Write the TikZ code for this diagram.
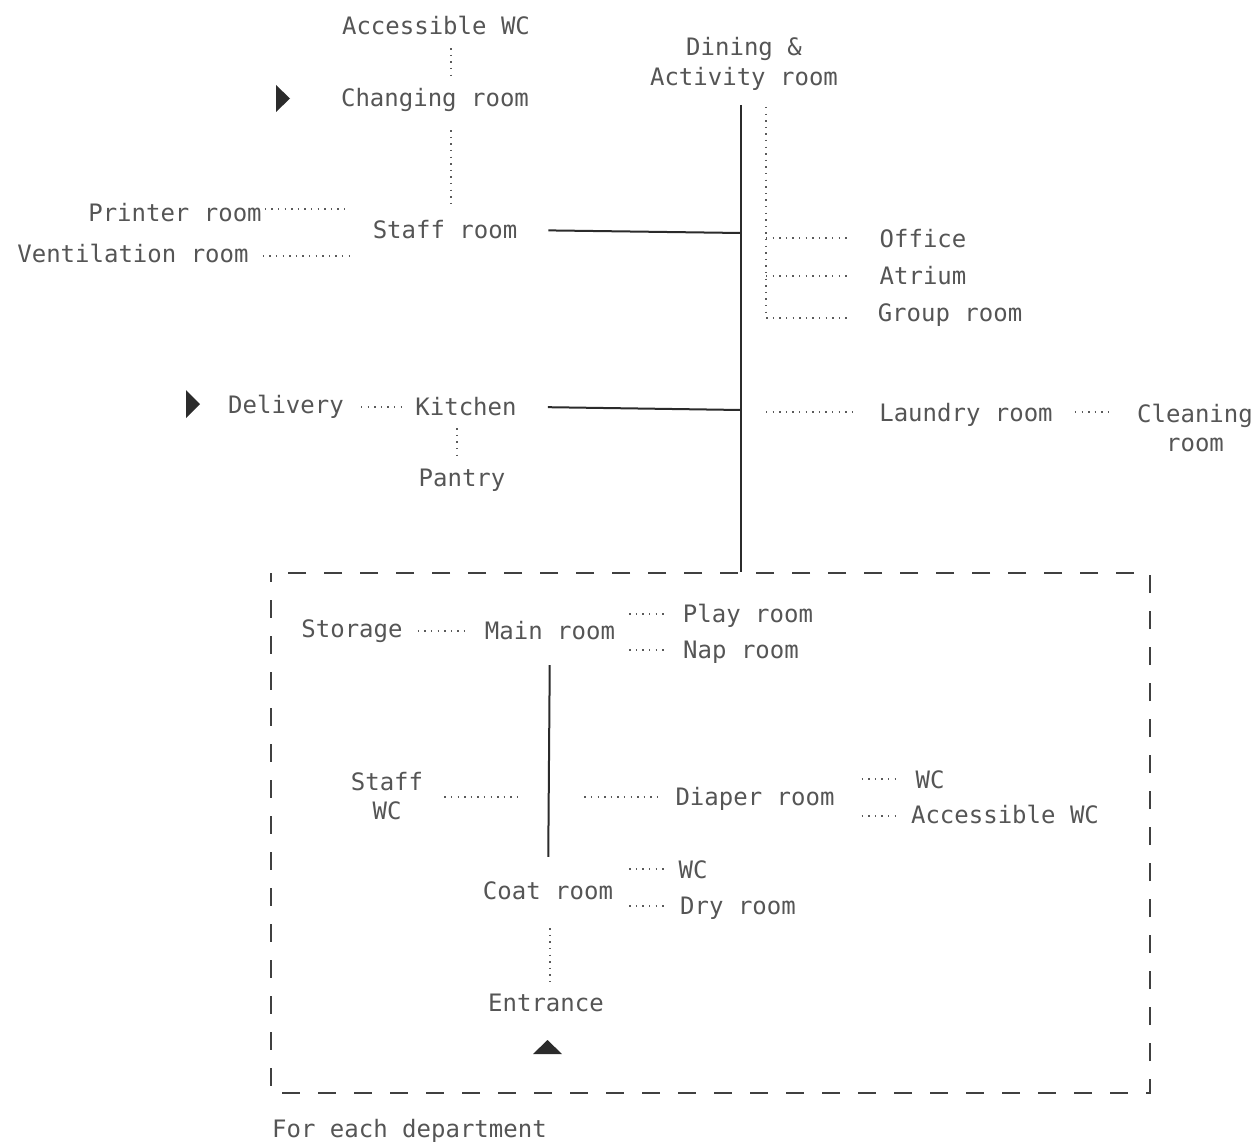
\documentclass[tikz,border=0pt]{standalone}
\usepackage{fontspec}
\newfontfamily\planfont{DejaVu Sans Mono}
\usetikzlibrary{calc}

\definecolor{inkgray}{HTML}{555555}
\definecolor{linegray}{HTML}{2B2B2B}
\definecolor{dotgray}{HTML}{5A5A5A}

\tikzset{
    room/.style={font=\planfont\fontsize{24}{29.5}\selectfont, text=inkgray,
        inner sep=0pt, text height=18pt, text depth=0pt},
    tworoom/.style={font=\planfont\fontsize{24}{29.5}\selectfont, text=inkgray,
        inner sep=0pt, align=center},
    solidlink/.style={draw=linegray, line width=2pt},
    dotlink/.style={draw=dotgray, line width=1.4pt, dash pattern=on 1.4pt off 5.2pt},
    deptbox/.style={draw=linegray!90, line width=1.5pt, dash pattern=on 18pt off 18pt, dash phase=9pt},
    doormark/.style={fill=linegray}
}

\begin{document}
\begin{tikzpicture}[x=1pt, y=-1pt]
    \useasboundingbox (0,0) rectangle (1259,1145);

    % staff side
    \node[room] (acwc) at (436,26) {Accessible WC};
    \node[room] (changing) at (435,98) {Changing room};
    \node[room] (staff) at (445,229) {Staff room};
    \node[room] (printer) at (175,213) {Printer room};
    \node[room] (vent) at (133,253) {Ventilation room};
    \fill[doormark] (276,85) -- (290,98.5) -- (276,112) -- cycle;

    \draw[dotlink] ($(acwc.south)+(15,13)$) -- ($(changing.north)+(16,-11)$);
    \draw[dotlink] ($(changing.south)+(16,23)$) -- ($(staff.north)+(6,-15)$);
    \draw[dotlink] ($(printer.east)+(3,-4)$) -- ++(82,0);
    \draw[dotlink] ($(vent.east)+(14,3)$) -- ++(88,0);

    % spine
    \node[tworoom] (dining) at (744,64) {Dining \&\\Activity room};
    \coordinate (spinetop) at (741,105);
    \coordinate (spinebot) at (741,572);
    \coordinate (staffjoin) at (741,233);
    \coordinate (kitchenjoin) at (741,410);
    \draw[solidlink] (spinetop) -- (spinebot);
    \draw[solidlink, shorten <=31pt] (staff) -- (staffjoin);

    % rooms off the spine
    \node[room] (office) at (923,238) {Office};
    \node[room] (atrium) at (923,275) {Atrium};
    \node[room] (group) at (950,312) {Group room};
    \coordinate (branch) at (766,107);
    \draw[dotlink] (branch) |- ($(group.west)+(-27,6)$);
    \draw[dotlink] (branch |- office) -- ($(office.west)+(-28,0)$);
    \draw[dotlink] ($(branch |- atrium)+(0,1)$) -- ($(atrium.west)+(-28,1)$);

    \node[room] (laundry) at (966,412) {Laundry room};
    \node[tworoom] (cleaning) at (1195,428) {Cleaning\\room};
    \draw[dotlink] (branch |- laundry) -- ($(laundry.west)+(-27,0)$);
    \draw[dotlink] ($(laundry.east)+(22,0)$) -- ++(37,0);

    % kitchen
    \node[room] (kitchen) at (466,406) {Kitchen};
    \node[room] (delivery) at (286,404) {Delivery};
    \node[room] (pantry) at (462,477) {Pantry};
    \fill[doormark] (186,390) -- (200,404) -- (186,418) -- cycle;
    \draw[solidlink, shorten <=31pt] (kitchen) -- (kitchenjoin);
    \draw[dotlink] ($(delivery.east)+(17,3)$) -- ($(kitchen.west)+(-14,1)$);
    \draw[dotlink] ($(kitchen.south)+(-9,13)$) -- ($(pantry.north)+(-5,-8)$);

    % department
    \draw[deptbox] (271,573) rectangle (1150,1093);
    \node[room, anchor=west] (dept) at (272,1128) {For each department};

    \node[room] (storage) at (352,628) {Storage};
    \node[room] (main) at (550,630) {Main room};
    \node[room] (play) at (748,613) {Play room};
    \node[room] (nap) at (741,649) {Nap room};
    \draw[dotlink] ($(storage.east)+(15,3)$) -- ($(main.west)+(-20,1)$);
    \draw[dotlink] ($(main.east |- play)+(14,1)$) -- ($(play.west)+(-16,1)$);
    \draw[dotlink] ($(main.east |- nap)+(14,1)$) -- ($(nap.west)+(-16,1)$);

    \node[tworoom] (staffwc) at (387,796) {Staff\\WC};
    \node[room] (diaper) at (755,796) {Diaper room};
    \node[room] (wca) at (930,779) {WC};
    \node[room] (acwcb) at (1005,814) {Accessible WC};
    \draw[dotlink] ($(staffwc.east)+(21,1)$) -- ++(73,0);
    \draw[dotlink] ($(diaper.west)+(-91,1)$) -- ($(diaper.west)+(-16,1)$);
    \draw[dotlink] ($(diaper.east |- wca)+(27,0)$) -- ($(wca.west)+(-16,0)$);
    \draw[dotlink] ($(diaper.east |- acwcb)+(27,2)$) -- ($(acwcb.west)+(-12,2)$);

    \node[room] (coat) at (548,890) {Coat room};
    \node[room] (wcb) at (693,869) {WC};
    \node[room] (dry) at (738,905) {Dry room};
    \node[room] (entrance) at (546,1002) {Entrance};
    \draw[solidlink, shorten <=26pt, shorten >=24pt] (main) -- (coat);
    \draw[dotlink] ($(coat.east |- wcb)+(16,0)$) -- ($(wcb.west)+(-11,0)$);
    \draw[dotlink] ($(coat.east |- dry)+(16,1)$) -- ($(dry.west)+(-13,1)$);
    \draw[dotlink] ($(coat.south)+(2,29)$) -- ($(entrance.north)+(4,-8)$);
    \fill[doormark] (533,1054) -- (547.5,1040) -- (562,1054) -- cycle;
\end{tikzpicture}
\end{document}
